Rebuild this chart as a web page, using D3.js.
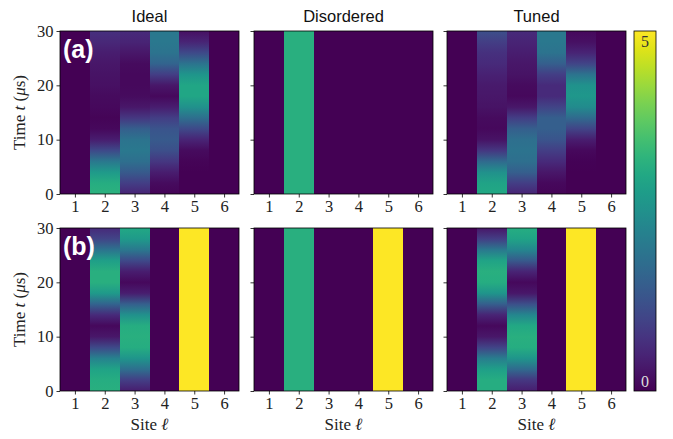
<!DOCTYPE html>
<html>
<head>
<meta charset="utf-8">
<script src="https://cdn.jsdelivr.net/npm/d3@7"></script>
<style>
body { margin: 0; background: #fff; }
svg text { font-family: "Liberation Serif", "DejaVu Serif", serif; }
</style>
</head>
<body>
<div id="canvas"></div>
<script>
const canvas = d3.select("#canvas");

// data
const sites = [1, 2, 3, 4, 5, 6];
const times = [0, 2, 4, 6, 8, 10, 12, 14, 16, 18, 20, 22, 24, 26, 28, 30];
const titles = ["Ideal", "Disordered", "Tuned"];
const rowLabels = ["(a)", "(b)"];
const yTicks = [0, 10, 20, 30];
const cbarTicks = [0, 5];

const Z = [0, 0, 0, 0, 0, 0, 0, 0, 0, 0, 0, 0, 0, 0, 0, 0];
const FIVE = [5, 5, 5, 5, 5, 5, 5, 5, 5, 5, 5, 5, 5, 5, 5, 5];
const DIS2 = [3.15, 3.15, 3.15, 3.15, 3.15, 3.15, 3.15, 3.15, 3.15, 3.15, 3.15, 3.15, 3.15, 3.15, 3.15, 3.15];

// one row per site, values at each time
const idealA = [
    Z,
    [3.2, 3.1, 2.7, 2.0, 1.1, 0.4, 0.1, 0.05, 0.1, 0.15, 0.2, 0.25, 0.3, 0.4, 0.55, 0.7],
    [0.5, 0.9, 1.4, 1.8, 2.0, 1.9, 1.5, 0.8, 0.3, 0.15, 0.1, 0.1, 0.15, 0.3, 0.5, 0.6],
    [0.05, 0.15, 0.4, 0.8, 1.2, 1.4, 1.3, 0.9, 0.4, 0.1, 0.3, 0.9, 1.6, 1.9, 2.0, 2.0],
    [0, 0, 0, 0.05, 0.15, 0.5, 1.1, 1.8, 2.5, 2.95, 2.95, 2.6, 1.9, 1.1, 0.5, 0.2],
    Z
];
const disA = [Z, DIS2, Z, Z, Z, Z];
const tunedA = [
    Z,
    [3.0, 2.9, 2.5, 1.7, 0.8, 0.25, 0.1, 0.15, 0.25, 0.3, 0.35, 0.45, 0.6, 0.7, 0.9, 1.2],
    [0.5, 0.9, 1.5, 1.8, 1.9, 1.8, 1.5, 0.9, 0.3, 0.1, 0.15, 0.25, 0.3, 0.4, 0.5, 0.6],
    [0.05, 0.1, 0.3, 0.6, 0.9, 1.3, 1.5, 1.5, 1.0, 0.6, 0.6, 0.9, 1.5, 1.9, 2.0, 2.0],
    [0, 0, 0, 0.02, 0.1, 0.4, 1.0, 1.7, 2.4, 2.65, 2.55, 1.9, 1.0, 0.5, 0.2, 0.1],
    Z
];
const idealB = [
    Z,
    [3.15, 3.1, 2.9, 2.2, 1.1, 0.3, 0.1, 0.6, 1.6, 2.7, 3.15, 3.15, 2.8, 1.9, 1.0, 0.6],
    [0.4, 0.9, 1.8, 2.6, 3.1, 3.15, 3.1, 2.5, 1.5, 0.4, 0.1, 0.4, 1.1, 2.0, 2.7, 3.0],
    Z,
    FIVE,
    Z
];
const disB = [Z, DIS2, Z, Z, FIVE, Z];
const tunedB = [
    Z,
    [3.1, 3.1, 2.8, 2.1, 1.0, 0.3, 0.1, 0.5, 1.5, 2.6, 3.1, 3.15, 2.9, 2.0, 0.9, 0.3],
    [0.4, 0.8, 1.7, 2.6, 3.1, 3.15, 3.0, 2.3, 1.2, 0.3, 0.1, 0.5, 1.4, 2.3, 2.9, 3.1],
    Z,
    FIVE,
    Z
];
const panels = [[idealA, disA, tunedA], [idealB, disB, tunedB]];

const width = 673;
const height = 439;
const colX = [60, 254, 447];
const rowY = [31, 228];
const pw = 179;
const ph = 163;
const serif = "'Liberation Serif', 'DejaVu Serif', serif";
const sans = "'Liberation Sans', Arial, sans-serif";

const svg = canvas.append("svg").attr("width", width).attr("height", height);
const defs = svg.append("defs");

const color = d3.scaleSequential(d3.interpolateViridis).domain([0, 5]);
const x = d3.scaleLinear().domain([0.5, 6.5]).range([0, pw]);
const y = d3.scaleLinear().domain([0, 30]).range([ph, 0]);

panels.forEach((row, r) => {
    row.forEach((grid, c) => {
        const g = svg.append("g").attr("transform", `translate(${colX[c]},${rowY[r]})`);

        grid.forEach((vals, i) => {
            const id = `grad-${r}-${c}-${i}`;
            const grad = defs.append("linearGradient")
                .attr("id", id)
                .attr("gradientUnits", "userSpaceOnUse")
                .attr("x1", 0).attr("x2", 0)
                .attr("y1", y(0)).attr("y2", y(30));
            grad.selectAll("stop").data(times).enter().append("stop")
                .attr("offset", t => t / 30)
                .attr("stop-color", (t, k) => color(vals[k]));

            g.append("rect")
                .attr("x", x(sites[i] - 0.5))
                .attr("y", y(30))
                .attr("width", x(sites[i] + 0.5) - x(sites[i] - 0.5))
                .attr("height", y(0) - y(30))
                .attr("shape-rendering", "crispEdges")
                .style("fill", `url(#${id})`);
        });

        const ya = g.append("g")
            .call(d3.axisLeft(y).tickValues(yTicks).tickSize(3.5).tickPadding(3)
                .tickFormat(c === 0 ? d3.format("d") : () => ""));
        const xa = g.append("g")
            .attr("transform", `translate(0,${ph})`)
            .call(d3.axisBottom(x).tickValues(sites).tickSize(3.5).tickPadding(3)
                .tickFormat(d3.format("d")));
        [ya, xa].forEach(a => {
            a.select(".domain").remove();
            a.selectAll("line").attr("stroke", "#000").attr("stroke-width", 0.8);
            a.selectAll("text")
                .attr("fill", "#222")
                .style("font-family", serif)
                .style("font-size", "16.5px");
        });

        g.append("rect")
            .attr("width", pw).attr("height", ph)
            .attr("fill", "none").attr("stroke", "#000").attr("stroke-width", 0.8);

        if (r === 0) {
            g.append("text")
                .attr("x", pw / 2).attr("y", -9)
                .attr("text-anchor", "middle")
                .style("font-family", sans)
                .attr("font-size", 16.5)
                .attr("fill", "#111")
                .text(titles[c]);
        }
        if (c === 0) {
            g.append("text")
                .attr("x", 3).attr("y", 27)
                .style("font-family", sans)
                .attr("font-weight", "bold")
                .attr("font-size", 25)
                .attr("fill", "#fff")
                .text(rowLabels[r]);

            const yl = g.append("text")
                .attr("transform", "rotate(-90)")
                .attr("x", -ph / 2).attr("y", -35)
                .attr("text-anchor", "middle")
                .attr("font-size", 17)
                .attr("fill", "#222");
            yl.append("tspan").text("Time ");
            yl.append("tspan").attr("font-style", "italic").text("t");
            yl.append("tspan").text(" (");
            yl.append("tspan").attr("font-style", "italic").text("μ");
            yl.append("tspan").text("s)");
        }
        if (r === 1) {
            const xl = g.append("text")
                .attr("x", pw / 2).attr("y", ph + 39)
                .attr("text-anchor", "middle")
                .attr("font-size", 17)
                .attr("fill", "#222");
            xl.append("tspan").text("Site ");
            xl.append("tspan").attr("font-style", "italic").text("ℓ");
        }
    });
});

// colorbar
const cbX = 634, cbW = 22, cbTop = 31, cbBot = 391;
const cy = d3.scaleLinear().domain([0, 5]).range([cbBot, cbTop]);
const cgrad = defs.append("linearGradient")
    .attr("id", "cbar")
    .attr("gradientUnits", "userSpaceOnUse")
    .attr("x1", 0).attr("x2", 0)
    .attr("y1", cy(0)).attr("y2", cy(5));
cgrad.selectAll("stop").data(d3.range(0, 1.0001, 0.05)).enter().append("stop")
    .attr("offset", d => d)
    .attr("stop-color", d => d3.interpolateViridis(d));
svg.append("rect")
    .attr("x", cbX).attr("y", cbTop)
    .attr("width", cbW).attr("height", cbBot - cbTop)
    .style("fill", "url(#cbar)")
    .attr("stroke", "#000").attr("stroke-width", 0.8);
svg.selectAll(".cbl").data(cbarTicks).enter().append("text")
    .attr("class", "cbl")
    .attr("x", cbX + cbW / 2)
    .attr("y", d => d === 5 ? cy(d) + 16 : cy(d) - 4)
    .attr("text-anchor", "middle")
    .attr("font-size", 16)
    .attr("fill", d => d === 5 ? "#333" : "#ddd")
    .text(d => d);
</script>
</body>
</html>
